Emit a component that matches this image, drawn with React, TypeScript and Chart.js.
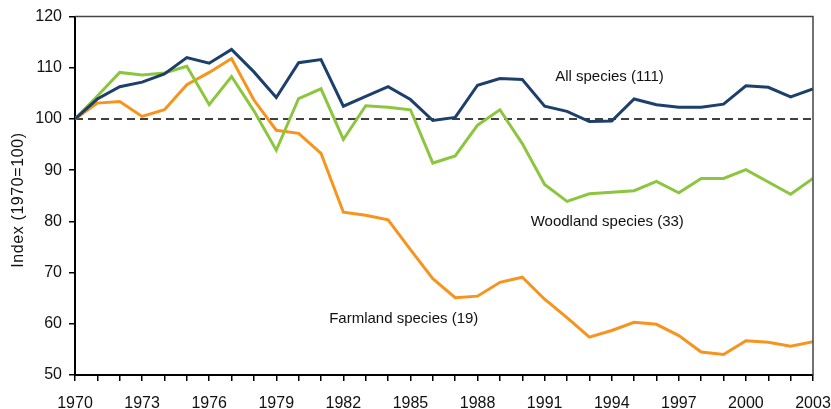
import React, { useEffect, useRef } from 'react';
import { Chart, registerables } from 'chart.js';

Chart.register(...registerables);

const years = [
  1970, 1971, 1972, 1973, 1974, 1975, 1976, 1977, 1978, 1979, 1980, 1981,
  1982, 1983, 1984, 1985, 1986, 1987, 1988, 1989, 1990, 1991, 1992, 1993,
  1994, 1995, 1996, 1997, 1998, 1999, 2000, 2001, 2002, 2003,
];

const allSpecies = [
  100, 103.9, 106.3, 107.2, 108.8, 112.0, 110.9, 113.6, 109.2, 104.2, 111.0, 111.6,
  102.5, 104.4, 106.3, 103.8, 99.7, 100.3, 106.6, 107.9, 107.7, 102.5, 101.5, 99.5,
  99.6, 103.9, 102.8, 102.3, 102.3, 102.9, 106.5, 106.2, 104.3, 105.9,
];

const woodlandSpecies = [
  100, 104.5, 109.1, 108.6, 109.0, 110.3, 102.8, 108.3, 101.6, 93.9, 104.0, 105.9,
  96.0, 102.6, 102.3, 101.8, 91.4, 92.8, 98.8, 101.8, 95.2, 87.2, 83.9, 85.4,
  85.7, 86.0, 87.8, 85.6, 88.4, 88.4, 90.1, 87.7, 85.3, 88.4,
];

const farmlandSpecies = [
  100, 103.1, 103.4, 100.5, 101.8, 106.7, 109.1, 111.8, 103.7, 97.8, 97.2, 93.3,
  81.8, 81.2, 80.3, 74.5, 68.8, 65.1, 65.4, 68.1, 69.1, 64.8, 61.2, 57.4,
  58.7, 60.3, 59.9, 57.7, 54.5, 54.0, 56.7, 56.4, 55.6, 56.5,
];

const seriesNames = ['All species (111)', 'Woodland species (33)', 'Farmland species (19)'];
const seriesColors = ['#1c3f6c', '#8cc63f', '#f7941d'];

// label anchor positions: [year, index value]
const labelYears = [1993.9, 1993.8, 1984.7];
const labelValues = [108.2, 80.0, 60.9];

const referenceIndex = 100;
const yTitle = 'Index (1970=100)';
const yMin = 50;
const yMax = 120;
const yStep = 10;
const xLabelEvery = 3;

const decorPlugin = {
  id: 'decor',
  beforeDatasetsDraw(chart: any) {
    const { ctx, chartArea, scales } = chart;
    const y = scales.y.getPixelForValue(referenceIndex);
    ctx.save();
    ctx.strokeStyle = '#000';
    ctx.lineWidth = 1.6;
    ctx.setLineDash([8, 5]);
    ctx.beginPath();
    ctx.moveTo(chartArea.left, y);
    ctx.lineTo(chartArea.right, y);
    ctx.stroke();
    ctx.restore();
  },
  afterDraw(chart: any) {
    const { ctx, chartArea, scales } = chart;
    ctx.save();
    // frame top and right
    ctx.strokeStyle = '#444';
    ctx.lineWidth = 1.5;
    ctx.beginPath();
    ctx.moveTo(chartArea.left, chartArea.top);
    ctx.lineTo(chartArea.right, chartArea.top);
    ctx.lineTo(chartArea.right, chartArea.bottom);
    ctx.stroke();

    // series labels
    ctx.fillStyle = '#111';
    ctx.font = '15px "Liberation Sans", Arial, sans-serif';
    ctx.textAlign = 'center';
    ctx.textBaseline = 'middle';
    for (let i = 0; i < seriesNames.length; i++) {
      const x = scales.x.getPixelForValue(labelYears[i]);
      const y = scales.y.getPixelForValue(labelValues[i]);
      ctx.fillText(seriesNames[i], x, y);
    }

    // y-axis title
    ctx.translate(19, 200);
    ctx.rotate(-Math.PI / 2);
    ctx.font = '16px "Liberation Sans", Arial, sans-serif';
    try { (ctx as any).letterSpacing = '0.6px'; } catch (e) {}
    ctx.fillText(yTitle, 0, 0);
    ctx.restore();
  },
};

export default function App() {
  const canvasRef = useRef<HTMLCanvasElement | null>(null);

  useEffect(() => {
    const canvas = canvasRef.current;
    if (!canvas) return;
    const seriesData = [allSpecies, woodlandSpecies, farmlandSpecies];
    const chart = new Chart(canvas, {
      type: 'line',
      data: {
        datasets: seriesData.map((arr, i) => ({
          label: seriesNames[i],
          data: arr.map((v, j) => ({ x: years[j], y: v })),
          borderColor: seriesColors[i],
          backgroundColor: seriesColors[i],
          borderWidth: 3,
          pointRadius: 0,
          tension: 0,
          fill: false,
        })),
      },
      options: {
        responsive: false,
        animation: false,
        devicePixelRatio: 1,
        layout: { padding: { top: 16, right: 0, left: 0, bottom: 0 } },
        plugins: {
          legend: { display: false },
          tooltip: { enabled: false },
        },
        scales: {
          x: {
            type: 'linear',
            min: years[0],
            max: years[years.length - 1],
            afterFit(scale: any) {
              scale.height = 34;
              scale.paddingRight = 18;
            },
            grid: {
              display: true,
              drawOnChartArea: false,
              drawTicks: true,
              tickLength: 6,
              color: '#000',
              lineWidth: 1.5,
            },
            border: { display: true, color: '#000', width: 2 },
            ticks: {
              stepSize: 1,
              autoSkip: false,
              maxRotation: 0,
              minRotation: 0,
              padding: 13,
              color: '#111',
              font: { family: '"Liberation Sans", Arial, sans-serif', size: 16 },
              callback: (v: any) => {
                const n = Number(v);
                return (n - years[0]) % xLabelEvery === 0 ? String(n) : '';
              },
            },
          },
          y: {
            min: yMin,
            max: yMax,
            afterFit(scale: any) {
              scale.width = 75;
            },
            grid: {
              display: true,
              drawOnChartArea: false,
              drawTicks: true,
              tickLength: 6,
              color: '#000',
              lineWidth: 1.5,
            },
            border: { display: true, color: '#000', width: 2 },
            ticks: {
              stepSize: yStep,
              padding: 7,
              color: '#111',
              font: { family: '"Liberation Sans", Arial, sans-serif', size: 16 },
            },
          },
        },
      },
      plugins: [decorPlugin],
    } as any);
    return () => chart.destroy();
  }, []);

  return (
    <div style={{ position: 'absolute', left: 0, top: 0, width: 831, height: 409, background: '#fff' }}>
      <canvas ref={canvasRef} width={831} height={409} />
    </div>
  );
}
